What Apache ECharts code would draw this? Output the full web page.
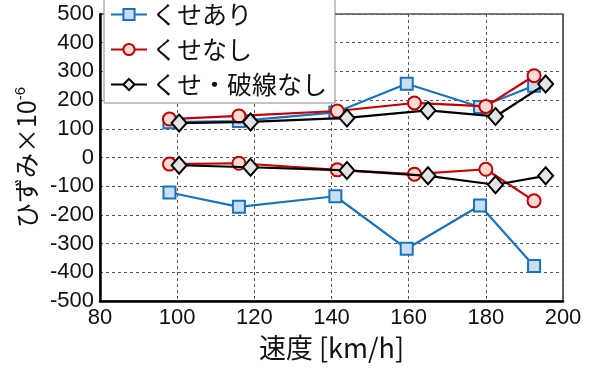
<!DOCTYPE html>
<html>
<head>
<meta charset="utf-8">
<script src="https://cdn.jsdelivr.net/npm/echarts@6/dist/echarts.min.js"></script>
<style>
  html, body { margin: 0; padding: 0; background: #fff; }
  #main { width: 600px; height: 375px; }
</style>
</head>
<body>
<div id="main"></div>
<script>
// 速度 [km/h]
var speedBlue  = [98, 116, 141, 159.5, 178.5, 192.5];
var speedRed   = [98, 116, 141.5, 161.5, 180, 192.5];
var speedBlack = [100.5, 119, 144, 165, 182.5, 195.5];

// ひずみ (上側 / 下側)
var blueUpper  = [123, 127, 157, 257, 176, 250];
var blueLower  = [-122, -172, -135, -318, -167, -378];
var redUpper   = [134, 145, 162, 190, 178, 285];
var redLower   = [-23, -20, -43, -58, -41, -151];
var blackUpper = [120, 124, 138, 164, 143, 256];
var blackLower = [-27, -34, -45, -64, -95, -64];

var names = ['くせあり', 'くせなし', 'くせ・破線なし'];

function pairs(xs, ys) {
    var out = [];
    for (var i = 0; i < xs.length; i++) out.push([xs[i], ys[i]]);
    return out;
}

var fontNum = "'Liberation Sans', 'Noto Sans CJK JP', sans-serif";
var fontJp = "'Noto Sans CJK JP', 'Liberation Sans', sans-serif";

var styleBlue = {
    symbol: 'rect', symbolSize: 12,
    lineStyle: {color: '#1a72bb', width: 2.2},
    itemStyle: {color: '#c9def2', borderColor: '#1a72bb', borderWidth: 2}
};
var styleRed = {
    symbol: 'circle', symbolSize: 13,
    lineStyle: {color: '#c00000', width: 2.2},
    itemStyle: {color: '#fbd9d4', borderColor: '#c00000', borderWidth: 2}
};
var styleBlack = {
    symbol: 'diamond', symbolSize: [15, 17],
    lineStyle: {color: '#000', width: 2.2},
    itemStyle: {color: '#e4e4e4', borderColor: '#000', borderWidth: 2}
};

function mk(name, st, data, z) {
    return Object.assign({
        name: name, type: 'line', data: data, z: z,
        showSymbol: true, animation: false
    }, JSON.parse(JSON.stringify(st)));
}

var dom = document.getElementById('main');
var myChart = echarts.init(dom);
var option = {
    animation: false,
    backgroundColor: '#fff',
    grid: {
        left: 100, right: 37, top: 14, bottom: 74,
        show: true, borderColor: '#000', borderWidth: 1.2
    },
    legend: {
        data: names,
        orient: 'vertical',
        left: 104, top: -4,
        itemWidth: 36, itemHeight: 14, itemGap: 10,
        padding: [6, 8, 6, 6],
        backgroundColor: '#fff',
        borderColor: '#888', borderWidth: 1,
        textStyle: {fontFamily: fontJp, fontSize: 25, color: '#111'},
        z: 10
    },
    xAxis: {
        type: 'value', min: 80, max: 200, interval: 20,
        name: '速度 [km/h]', nameLocation: 'middle', nameGap: 30,
        nameTextStyle: {fontFamily: fontJp, fontSize: 27, color: '#111', verticalAlign: 'top'},
        axisLine: {show: true, onZero: false, lineStyle: {color: '#000', width: 2.5}},
        axisTick: {show: false},
        axisLabel: {fontFamily: fontNum, fontSize: 22, color: '#111', margin: 6},
        splitLine: {show: true, lineStyle: {color: '#555', type: [3, 3], width: 1}}
    },
    yAxis: {
        type: 'value', min: -500, max: 500, interval: 100,
        name: '{a|ひずみ×10}{s|-6}', nameLocation: 'middle', nameGap: 58,
        nameTextStyle: {
            rich: {
                a: {fontFamily: fontJp, fontSize: 25, color: '#111'},
                s: {fontFamily: fontNum, fontSize: 15, color: '#111', padding: [0, 0, 12, 0]}
            }
        },
        axisLine: {show: true, onZero: false, lineStyle: {color: '#000', width: 2.5}},
        axisTick: {show: false},
        axisLabel: {fontFamily: fontNum, fontSize: 22, color: '#111', margin: 6},
        splitLine: {show: true, lineStyle: {color: '#555', type: [3, 3], width: 1}}
    },
    series: [
        mk(names[0], styleBlue, pairs(speedBlue, blueUpper), 2),
        mk(names[0], styleBlue, pairs(speedBlue, blueLower), 2),
        mk(names[1], styleRed, pairs(speedRed, redUpper), 3),
        mk(names[1], styleRed, pairs(speedRed, redLower), 3),
        mk(names[2], styleBlack, pairs(speedBlack, blackUpper), 4),
        mk(names[2], styleBlack, pairs(speedBlack, blackLower), 4)
    ]
};
if (option && typeof option === "object") {
    myChart.setOption(option, true);
}
</script>
</body>
</html>
